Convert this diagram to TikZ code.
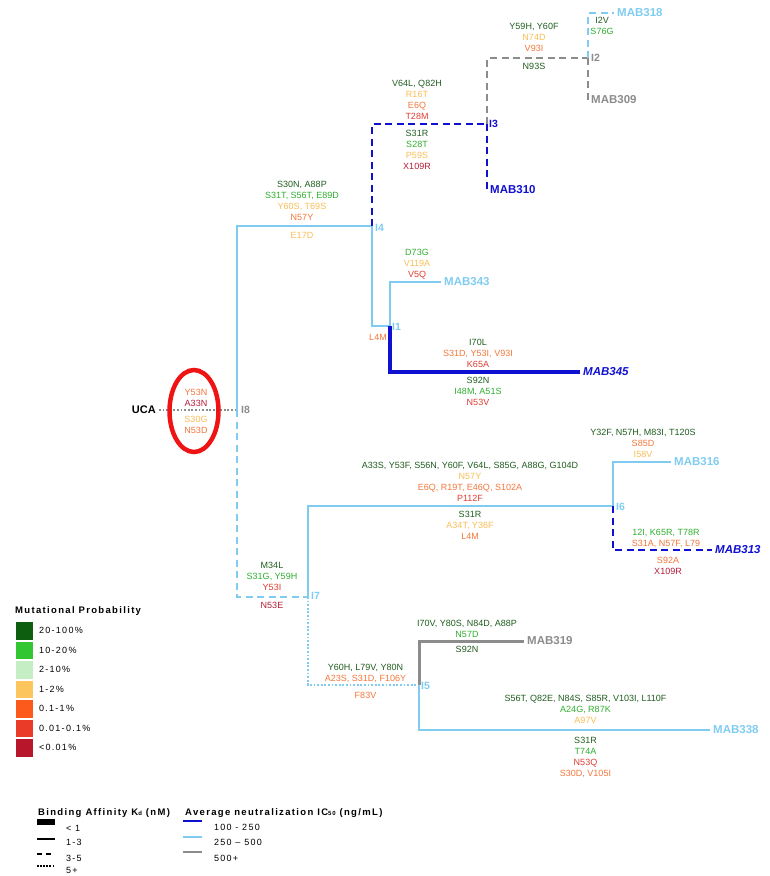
\documentclass[tikz,border=0pt]{standalone}
\usepackage{fontspec}
\setmainfont{Liberation Sans}
\newfontfamily\legfont[LetterSpace=14]{Liberation Sans}
\definecolor{cdg}{HTML}{1F5C1F}
\definecolor{cg}{HTML}{2FAE2F}
\definecolor{cy}{HTML}{F8BD55}
\definecolor{co}{HTML}{F2763A}
\definecolor{cr}{HTML}{E03C30}
\definecolor{cdr}{HTML}{B31B36}
\definecolor{lg1}{HTML}{0D5E0F}
\definecolor{lg2}{HTML}{33C633}
\definecolor{lg3}{HTML}{C5EEC5}
\definecolor{lg4}{HTML}{FDC55E}
\definecolor{lg5}{HTML}{FC5A1C}
\definecolor{lg6}{HTML}{EA3B28}
\definecolor{lg7}{HTML}{B8162B}
\definecolor{dblue}{HTML}{1010D0}
\definecolor{lblue}{HTML}{80CCF0}
\definecolor{lgray}{HTML}{8C8C8C}
\definecolor{ring}{HTML}{EE1414}
\newcommand\mdg[1]{\textcolor{cdg}{\strut #1}}
\newcommand\mg[1]{\textcolor{cg}{\strut #1}}
\newcommand\my[1]{\textcolor{cy}{\strut #1}}
\newcommand\mo[1]{\textcolor{co}{\strut #1}}
\newcommand\mr[1]{\textcolor{cr}{\strut #1}}
\newcommand\mdr[1]{\textcolor{cdr}{\strut #1}}
\begin{document}
\begin{tikzpicture}[x=1pt,y=-1pt,
  mut/.style={font=\fontsize{9}{11}\selectfont, inner sep=0pt, align=center},
  inode/.style={font=\fontsize{10.5}{12}\selectfont\bfseries, inner xsep=3pt, inner ysep=0pt, anchor=west},
  mab/.style={font=\fontsize{11.5}{13}\selectfont\bfseries, inner xsep=3pt, inner ysep=0pt, anchor=west},
  mabi/.style={mab, font=\fontsize{11.5}{13}\selectfont\bfseries\itshape},
  br/.style={line width=2pt},
  thk/.style={line width=3.8pt},
  dsh/.style={dash pattern=on 7pt off 4.5pt},
  dotl/.style={dash pattern=on 1.8pt off 1.8pt},
  leg/.style={font=\fontsize{9}{11}\selectfont\legfont, inner sep=0pt, anchor=west},
  legt/.style={font=\fontsize{9.5}{11}\selectfont\legfont\bfseries, inner sep=0pt, anchor=west},
]
\useasboundingbox (0,0) rectangle (769,876);

% junctions
\coordinate (j8) at (237,410);
\coordinate (j4) at (372,226);
\coordinate (j3) at (487,124);
\coordinate (j2) at (588,58);
\coordinate (j1) at (390,326);
\coordinate (j7) at (308,597);
\coordinate (j6) at (613,506);
\coordinate (j5) at (419,685);

% internal node labels
\node[anchor=east, inner xsep=3pt, inner ysep=0pt, font=\fontsize{11}{13}\selectfont\bfseries] (uca) at (159,410) {UCA};
\node[inode, text=lgray] (n8) at (238,410) {I8};
\node[inode, text=lblue] (n4) at (372,228) {I4};
\node[inode, text=dblue] (n3) at (486,124) {I3};
\node[inode, text=lgray] (n2) at (588,58) {I2};
\node[inode, text=lblue] (n1) at (389,327) {I1};
\node[inode, text=lblue] (n7) at (308,596) {I7};
\node[inode, text=lblue] (n6) at (613,507) {I6};
\node[inode, text=lblue] (n5) at (418,686) {I5};

% leaves
\node[mab, text=lblue] (m318) at (614,13) {MAB318};
\node[mab, text=lgray] (m309) at (588,100) {MAB309};
\node[mab, text=dblue] (m310) at (487,190) {MAB310};
\node[mab, text=lblue] (m343) at (441,282) {MAB343};
\node[mabi, text=dblue] (m345) at (580,372) {MAB345};
\node[mab, text=lblue] (m316) at (671,462) {MAB316};
\node[mabi, text=dblue] (m313) at (712,550) {MAB313};
\node[mab, text=lgray] (m319) at (524,641) {MAB319};
\node[mab, text=lblue] (m338) at (710,730) {MAB338};

% branches
\draw[br, lgray, dotl] (uca.east) -- (j8);
\draw[br, lblue] (j8) |- (j4);
\draw[br, lblue, dsh] (j8) |- (j7);
\draw[br, dblue, dsh] (j4) |- (j3);
\draw[br, lblue] (j4) |- (j1);
\draw[br, lgray, dsh] (j3) |- (j2);
\draw[br, dblue, dsh] (j3) |- (m310.west);
\draw[br, lblue, dsh] (j2) |- (m318.west);
\draw[br, lgray, dsh] (j2) |- (m309.west);
\draw[br, lblue] (j1) |- (m343.west);
\draw[thk, dblue] (j1) |- (m345.west);
\draw[br, lblue] (j7) |- (j6);
\draw[br, lblue, dotl] (j7) |- (j5);
\draw[br, lblue] (j6) |- (m316.west);
\draw[br, dblue, dsh] (j6) |- (m313.west);
\draw[lgray, line width=3pt] (j5) |- (m319.west);
\draw[br, lblue] (j5) |- (m338.west);

% mutation labels
\node[mut] (a1) at (302,202) {\mdg{S30N, A88P}\\\mg{S31T, S56T, E89D}\\\my{Y60S, T69S}\\\mo{N57Y}};
\node[mut] (a2) at (302,236) {\my{E17D}};
\node[mut] (a3) at (417,101) {\mdg{V64L, Q82H}\\\my{R16T}\\\mo{E6Q}\\\mr{T28M}};
\node[mut] (a4) at (417,151) {\mdg{S31R}\\\mg{S28T}\\\my{P59S}\\\mdr{X109R}};
\node[mut] (a5) at (534,38.7) {\mdg{Y59H, Y60F}\\\my{N74D}\\\mo{V93I}};
\node[mut] (a6) at (534,67) {\mdg{N93S}};
\node[mut] (a7) at (602,27) {\mdg{I2V}\\\mg{S76G}};
\node[mut] (a8) at (417,264.7) {\mg{D73G}\\\my{V119A}\\\mr{V5Q}};
\node[mut] (a9) at (378,338) {\mo{L4M}};
\node[mut] (a10) at (478,354.3) {\mdg{I70L}\\\mo{S31D, Y53I, V93I}\\\mr{K65A}};
\node[mut] (a11) at (478,392.7) {\mdg{S92N}\\\mg{I48M, A51S}\\\mr{N53V}};
\node[mut] (a12) at (196,398.5) {\mo{Y53N}\\\mdr{A33N}};
\node[mut] (a13) at (196,426) {\my{S30G}\\\mo{N53D}};
\node[mut] (a14) at (470,482.5) {\mdg{A33S, Y53F, S56N, Y60F, V64L, S85G, A88G, G104D}\\\my{N57Y}\\\mo{E6Q, R19T, E46Q, S102A}\\\mr{P112F}};
\node[mut] (a15) at (470,526.3) {\mdg{S31R}\\\my{A34T, Y36F}\\\mo{L4M}};
\node[mut] (a16) at (643,444.3) {\mdg{Y32F, N57H, M83I, T120S}\\\mo{S85D}\\\my{I58V}};
\node[mut] (a17) at (666,538.5) {\mg{12I, K65R, T78R}\\\mo{S31A, N57F, L79}};
\node[mut] (a18) at (668,567) {\mo{S92A}\\\mdr{X109R}};
\node[mut] (a19) at (272,577.7) {\mdg{M34L}\\\mg{S31G, Y59H}\\\mr{Y53I}};
\node[mut] (a20) at (272,606) {\mdr{N53E}};
\node[mut] (a21) at (365.5,673.5) {\mdg{Y60H, L79V, Y80N}\\\mo{A23S, S31D, F106Y}};
\node[mut] (a22) at (365.5,696) {\mo{F83V}};
\node[mut] (a23) at (467,629.5) {\mdg{I70V, Y80S, N84D, A88P}\\\mg{N57D}};
\node[mut] (a24) at (467,650) {\mdg{S92N}};
\node[mut] (a25) at (585.5,710.7) {\mdg{S56T, Q82E, N84S, S85R, V103I, L110F}\\\mg{A24G, R87K}\\\my{A97V}};
\node[mut] (a26) at (585.5,757.5) {\mdg{S31R}\\\mg{T74A}\\\mr{N53Q}\\\mo{S30D, V105I}};

% red ring
\draw[ring, line width=4.5pt] (194,411) ellipse [x radius=24.5pt, y radius=41pt];

% legend: mutational probability
\node[legt] (lt1) at (15,611) {Mutational Probability};
\fill[lg1] (16,622) rectangle (33,639.5);
\fill[lg2] (16,641.5) rectangle (33,659);
\fill[lg3] (16,661) rectangle (33,678.5);
\fill[lg4] (16,680.5) rectangle (33,698);
\fill[lg5] (16,700) rectangle (33,717.5);
\fill[lg6] (16,719.5) rectangle (33,737);
\fill[lg7] (16,739) rectangle (33,756.5);
\node[leg] (k1) at (39,630.75) {20-100\%};
\node[leg] (k2) at (39,650.25) {10-20\%};
\node[leg] (k3) at (39,669.75) {2-10\%};
\node[leg] (k4) at (39,689.25) {1-2\%};
\node[leg] (k5) at (39,708.75) {0.1-1\%};
\node[leg] (k6) at (39,728.25) {0.01-0.1\%};
\node[leg] (k7) at (39,747.75) {<0.01\%};

% legend: binding affinity
\node[legt] (lt2) at (38,813) {Binding Affinity K{\fontsize{6}{6}\selectfont d} (nM)};
\fill (37,819) rectangle (55,825);
\draw[line width=1.8pt] (37,839) -- (55,839);
\draw[line width=1.8pt] (37,854) -- (42,854) (46,854) -- (51,854);
\draw[line width=1.8pt, dash pattern=on 1.5pt off 1.6pt] (37,866) -- (55,866);
\node[leg] (b1) at (66,828) {< 1};
\node[leg] (b2) at (66,842) {1-3};
\node[leg] (b3) at (66,858) {3-5};
\node[leg] (b4) at (66,870) {5+};

% legend: neutralization
\node[legt] (lt3) at (185,813) {Average neutralization IC{\fontsize{6}{6}\selectfont 50} (ng/mL)};
\draw[dblue, line width=1.6pt] (183,821) -- (202,821);
\draw[lblue, line width=1.6pt] (183,837) -- (202,837);
\draw[lgray, line width=1.6pt] (183,852) -- (202,852);
\node[leg] (c1) at (214,827) {100 - 250};
\node[leg] (c2) at (214,842) {250 – 500};
\node[leg] (c3) at (214,858) {500+};
\end{tikzpicture}
\end{document}
